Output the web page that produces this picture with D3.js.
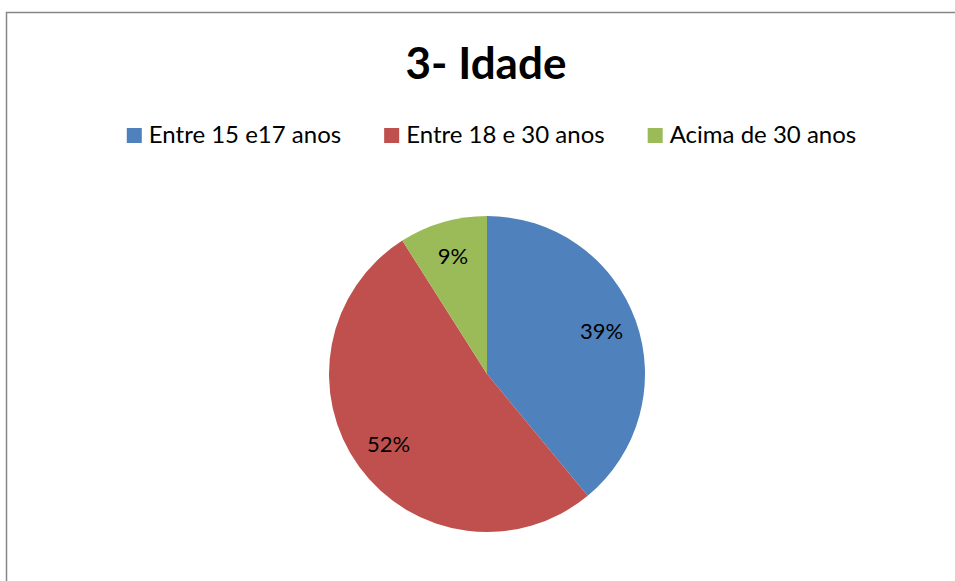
<!DOCTYPE html>
<html>
<head>
<meta charset="utf-8">
<script src="https://cdn.jsdelivr.net/npm/d3@7"></script>
<style>
  body { margin: 0; background: #fff; }
  text { font-family: Lato, "Open Sans", sans-serif; fill: #000; }
</style>
</head>
<body>
<div id="chart"></div>
<script>
// data
var categories = ["Entre 15 e17 anos", "Entre 18 e 30 anos", "Acima de 30 anos"];
var values = [39, 52, 9];
var colors = ["#4f81bd", "#c0504d", "#9bbb59"];
var title = "3- Idade";

var width = 955, height = 581;

var svg = d3.select("#chart")
  .append("svg")
  .attr("width", width)
  .attr("height", height);

// chart border
svg.append("rect")
  .attr("x", 6.5)
  .attr("y", 12.5)
  .attr("width", 960)
  .attr("height", 600)
  .attr("fill", "#fff")
  .attr("stroke", "#868686")
  .attr("stroke-width", 1.5);

svg.append("text")
  .text(title)
  .attr("x", 486)
  .attr("y", 79)
  .attr("text-anchor", "middle")
  .style("font-size", "44px")
  .style("font-weight", "bold");

// legend
var legend = svg.append("g").attr("class", "legend");
var items = legend.selectAll("g")
  .data(categories)
  .enter()
  .append("g");

items.append("rect")
  .attr("x", 0)
  .attr("y", -15)
  .attr("width", 15)
  .attr("height", 15)
  .attr("fill", function(d, i) { return colors[i]; });

items.append("text")
  .text(function(d) { return d; })
  .attr("x", 22)
  .attr("y", 0)
  .style("font-size", "24px");

var xpos = 0, gap = 43;
items.each(function() {
  var g = d3.select(this);
  g.attr("transform", "translate(" + xpos + ",143)");
  xpos += 22 + g.select("text").node().getComputedTextLength() + gap;
});
var legendWidth = xpos - gap;
legend.attr("transform", "translate(" + (491.5 - legendWidth / 2) + ",0)");

// pie
var cx = 487, cy = 374, r = 158;
var pie = d3.pie().sort(null).value(function(d) { return d; });
var arc = d3.arc().innerRadius(0).outerRadius(r);
var labelArc = d3.arc().innerRadius(r * 0.77).outerRadius(r * 0.77);

var g = svg.append("g").attr("transform", "translate(" + cx + "," + cy + ")");

g.selectAll("path")
  .data(pie(values))
  .enter()
  .append("path")
  .attr("d", arc)
  .attr("fill", function(d, i) { return colors[i]; });

g.selectAll(".label")
  .data(pie(values))
  .enter()
  .append("text")
  .attr("class", "label")
  .attr("transform", function(d) { return "translate(" + labelArc.centroid(d) + ")"; })
  .attr("text-anchor", "middle")
  .attr("dy", "0.3em")
  .style("font-size", "22px")
  .text(function(d) { return d.data + "%"; });
</script>
</body>
</html>
